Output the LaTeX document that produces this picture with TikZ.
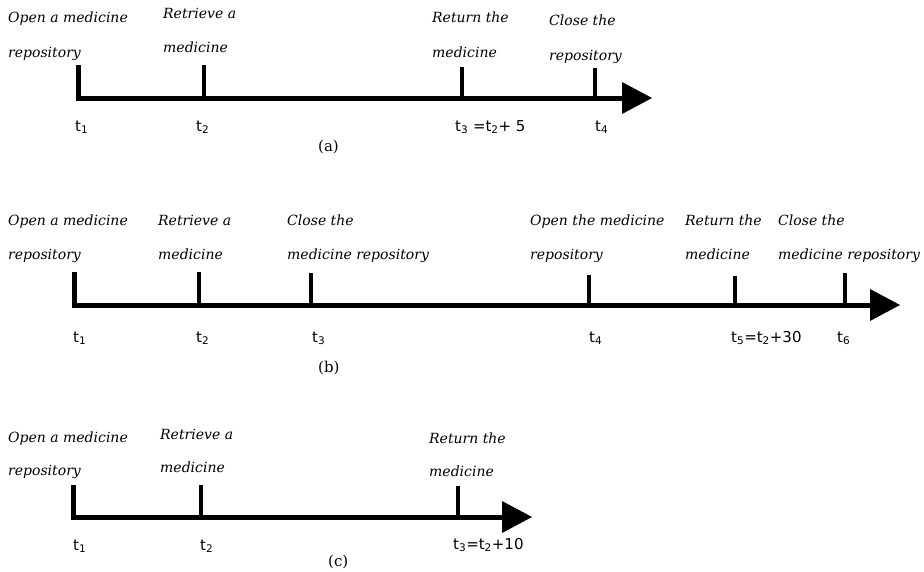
\documentclass[tikz,border=0pt]{standalone}
\usepackage{fontspec}
\setmainfont{DejaVu Serif}
\newfontfamily\tfont{DejaVu Sans}
\begin{document}
\begin{tikzpicture}[x=1pt,y=-1pt,
  lbl/.style={font=\itshape\fontsize{14}{16}\selectfont, anchor=base west, inner sep=0pt},
  tl/.style={font=\tfont\fontsize{15}{17}\selectfont, anchor=base west, inner sep=0pt},
  captxt/.style={font=\fontsize{15}{17}\selectfont, anchor=base west, inner sep=0pt},
  axis/.style={line width=5pt, line join=miter, line cap=butt},
  tickline/.style={line width=4.5pt},
  head/.style={fill=black}]
\useasboundingbox (0,0) rectangle (924,571);

% ---------- (a) ----------
\coordinate (aS) at (78,98);
\coordinate (aE) at (624,98);
\draw[axis] (78,65) -- (aS) -- (aE);
\fill[head] (622,82) -- (652,98) -- (622,114) -- cycle;
\foreach \x/\t in {204/65,462/67,595/68} \draw[tickline] (\x,\t) -- (\x,98);
\node[lbl] (a1a) at (8,22) {Open a medicine};
\node[lbl] (a1b) at (8,57) {repository};
\node[lbl] (a2a) at (163,18) {Retrieve a};
\node[lbl] (a2b) at (163,52) {medicine};
\node[lbl] (a3a) at (432,22) {Return the};
\node[lbl] (a3b) at (432,57) {medicine};
\node[lbl] (a4a) at (549,25) {Close the};
\node[lbl] (a4b) at (549,60) {repository};
\node[tl] (at1) at (75,131) {t\textsubscript{1}};
\node[tl] (at2) at (196,131) {t\textsubscript{2}};
\node[tl] (at3) at (455,131) {t\textsubscript{3} =t\textsubscript{2}+ 5};
\node[tl] (at4) at (595,131) {t\textsubscript{4}};
\node[captxt] (acap) at (318,151) {(a)};

% ---------- (b) ----------
\coordinate (bS) at (74,305);
\coordinate (bE) at (872,305);
\draw[axis] (74,272) -- (bS) -- (bE);
\fill[head] (870,289) -- (900,305) -- (870,321) -- cycle;
\foreach \x/\t in {199/272,311/273,589/275,735/276,845/273} \draw[tickline] (\x,\t) -- (\x,305);
\node[lbl] (b1a) at (8,225) {Open a medicine};
\node[lbl] (b1b) at (8,259) {repository};
\node[lbl] (b2a) at (158,225) {Retrieve a};
\node[lbl] (b2b) at (158,259) {medicine};
\node[lbl] (b3a) at (287,225) {Close the};
\node[lbl] (b3b) at (287,259) {medicine repository};
\node[lbl] (b4a) at (530,225) {Open the medicine};
\node[lbl] (b4b) at (530,259) {repository};
\node[lbl] (b5a) at (685,225) {Return the};
\node[lbl] (b5b) at (685,259) {medicine};
\node[lbl] (b6a) at (778,225) {Close the};
\node[lbl] (b6b) at (778,259) {medicine repository};
\node[tl] (bt1) at (73,342) {t\textsubscript{1}};
\node[tl] (bt2) at (196,342) {t\textsubscript{2}};
\node[tl] (bt3) at (312,342) {t\textsubscript{3}};
\node[tl] (bt4) at (589,342) {t\textsubscript{4}};
\node[tl] (bt5) at (731,342) {t\textsubscript{5}=t\textsubscript{2}+30};
\node[tl] (bt6) at (837,342) {t\textsubscript{6}};
\node[captxt] (bcap) at (318,372) {(b)};

% ---------- (c) ----------
\coordinate (cS) at (73,517);
\coordinate (cE) at (504,517);
\draw[axis] (73,485) -- (cS) -- (cE);
\fill[head] (502,501) -- (532,517) -- (502,533) -- cycle;
\foreach \x/\t in {201/485,458/486} \draw[tickline] (\x,\t) -- (\x,517);
\node[lbl] (c1a) at (8,442) {Open a medicine};
\node[lbl] (c1b) at (8,475) {repository};
\node[lbl] (c2a) at (160,439) {Retrieve a};
\node[lbl] (c2b) at (160,472) {medicine};
\node[lbl] (c3a) at (429,443) {Return the};
\node[lbl] (c3b) at (429,476) {medicine};
\node[tl] (ct1) at (73,550) {t\textsubscript{1}};
\node[tl] (ct2) at (200,550) {t\textsubscript{2}};
\node[tl] (ct3) at (453,549) {t\textsubscript{3}=t\textsubscript{2}+10};
\node[captxt] (ccap) at (328,566) {(c)};
\end{tikzpicture}
\end{document}
